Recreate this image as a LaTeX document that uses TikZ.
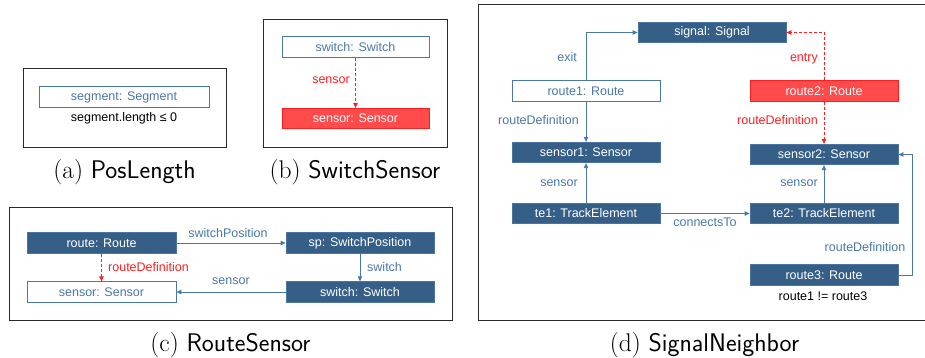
\documentclass[tikz,border=0pt]{standalone}
\usepackage{fontspec}
\newfontfamily\arialf{Liberation Sans}
\usetikzlibrary{arrows.meta}
\definecolor{dblue}{HTML}{365F88}
\definecolor{dblueb}{HTML}{4C74A0}
\definecolor{lblue}{HTML}{4A78A9}
\definecolor{rfill}{HTML}{FF4B4B}
\definecolor{rline}{HTML}{FF1E1E}
\definecolor{frm}{HTML}{2A2A2A}
\tikzset{
  boxfont/.style={font=\arialf\fontsize{12.5}{15}\selectfont},
  dbox/.style={boxfont, draw=dblueb, fill=dblue, text=white, minimum width=148pt, minimum height=20.5pt, inner sep=0pt, line width=0.8pt},
  wbox/.style={boxfont, draw=lblue, fill=white, text=lblue, minimum width=148pt, minimum height=20.5pt, inner sep=0pt, line width=0.8pt},
  rbox/.style={boxfont, draw=rline, fill=rfill, text=white, minimum width=148pt, minimum height=20.5pt, inner sep=0pt, line width=0.8pt},
  lbl/.style={boxfont, text=lblue, inner sep=0pt},
  rlbl/.style={boxfont, text=rline, inner sep=0pt},
  blk/.style={boxfont, text=black, inner sep=0pt},
  conn/.style={draw=lblue, line width=0.8pt, -{Triangle[length=5pt,width=4.5pt]}},
  rconn/.style={draw=rline, line width=0.8pt, dashed, dash pattern=on 3pt off 2pt, -{Triangle[length=5pt,width=4.5pt]}},
  frame/.style={draw=frm, line width=0.9pt},
  capt/.style={font=\fontsize{25.5}{30}\selectfont, inner sep=0pt, text=black},
}
\begin{document}
\begin{tikzpicture}[x=1pt, y=-1pt]
\useasboundingbox (0,0) rectangle (925,358);
\clip (0,0) rectangle (925,358);

% ---------- (a) ----------
\draw[frame] (23,68) rectangle (226,147);
\node[wbox, minimum width=170pt] (seg) at (124,97) {segment: Segment};
\node[blk] (segc) at (124,118) {segment.length ≤ 0};
\node[capt] (capa) at (124.5,172) {(a)\ \textsf{PosLength}};

% ---------- (b) ----------
\draw[frame] (263,19) rectangle (447,147);
\node[wbox, minimum width=147pt] (bsw) at (355.5,47) {switch: Switch};
\node[rbox, minimum width=147pt] (bsen) at (355.5,118.5) {sensor: Sensor};
\draw[rconn] (bsw.south) -- (bsen.north);
\node[rlbl, anchor=east] (bl) at (350,80) {sensor};
\node[capt] (capb) at (355,172) {(b)\ \textsf{SwitchSensor}};

% ---------- (c) ----------
\draw[frame] (9,207) rectangle (452,320);
\node[dbox, minimum width=149pt] (croute) at (101.5,243) {route: Route};
\node[dbox] (csp) at (360,243) {sp: SwitchPosition};
\node[wbox, minimum width=149pt] (csen) at (101.5,292) {sensor: Sensor};
\node[dbox] (csw) at (360,292) {switch: Switch};
\draw[conn] (croute.east) -- (csp.west);
\draw[conn] (csp.south) -- (csw.north);
\draw[conn] (csw.west) -- (csen.east);
\draw[rconn] (croute.south) -- (csen.north);
\node[lbl] (cl1) at (228,233) {switchPosition};
\node[lbl, anchor=west] (cl2) at (367,267) {switch};
\node[lbl] (cl3) at (231,281) {sensor};
\node[rlbl, anchor=west] (cl4) at (108,267) {routeDefinition};
\node[capt] (capc) at (230.5,345) {(c)\ \textsf{RouteSensor}};

% ---------- (d) ----------
\draw[frame] (478,4.5) rectangle (940,320.5);
\node[dbox] (signal) at (712,32.5) {signal: Signal};
\node[wbox] (route1) at (586,91) {route1: Route};
\node[rbox] (route2) at (824,91) {route2: Route};
\node[dbox] (sensor1) at (586,152.5) {sensor1: Sensor};
\node[dbox] (sensor2) at (824,154.5) {sensor2: Sensor};
\node[dbox] (te1) at (586,213.5) {te1: TrackElement};
\node[dbox] (te2) at (824,213.5) {te2: TrackElement};
\node[dbox] (route3) at (824,275) {route3: Route};
\node[blk] (dc) at (823,296) {route1 != route3};

\draw[conn] (route1.north) |- (signal.west);
\draw[rconn] (route2.north) |- (signal.east);
\draw[conn] (route1.south) -- (sensor1.north);
\draw[rconn] (route2.south) -- (sensor2.north);
\draw[conn] (te1.north) -- (sensor1.south);
\draw[conn] (te2.north) -- (sensor2.south);
\draw[conn] (te1.east) -- (te2.west);
\coordinate (bend) at (912,200);
\draw[conn] (route3.east) -- (route3.east -| bend) -- (sensor2.east -| bend) -- (sensor2.east);

\node[lbl, anchor=east] (dl1) at (577,57) {exit};
\node[rlbl, anchor=east] (dl2) at (818,59) {entry};
\node[lbl, anchor=east] (dl3) at (579,120) {routeDefinition};
\node[rlbl, anchor=east] (dl4) at (818,120) {routeDefinition};
\node[lbl, anchor=east] (dl5) at (578,183) {sensor};
\node[lbl, anchor=east] (dl6) at (818,183) {sensor};
\node[lbl] (dl7) at (705,222) {connectsTo};
\node[lbl] (dl8) at (865,247) {routeDefinition};
\node[capt] (capd) at (704.5,345) {(d)\ \textsf{SignalNeighbor}};
\end{tikzpicture}
\end{document}
